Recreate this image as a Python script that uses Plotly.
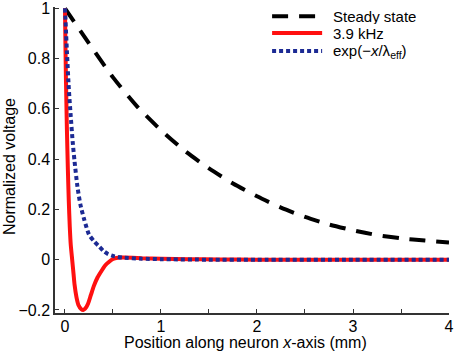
import plotly.graph_objects as go

# Data
steady_x = [0, 0.25, 0.5, 0.75, 1.0, 1.25, 1.5, 1.75, 2.0, 2.25, 2.5, 2.75, 3.0, 3.25, 3.5, 3.75, 4.0]
steady_y = [1.0, 0.86, 0.725, 0.61, 0.515, 0.432, 0.363, 0.303, 0.252, 0.207, 0.170, 0.140, 0.117, 0.098, 0.085, 0.076, 0.068]

khz_x = [0, 0.005, 0.01, 0.02, 0.03, 0.04, 0.05, 0.06, 0.075, 0.09, 0.10, 0.12, 0.14, 0.17, 0.19, 0.21,
         0.24, 0.27, 0.30, 0.34, 0.38, 0.42, 0.46, 0.50, 0.55, 0.6, 0.7, 0.8, 1.0, 1.3, 1.6, 2.0, 3.0, 4.0]
khz_y = [1.0, 0.85, 0.72, 0.52, 0.36, 0.23, 0.13, 0.06, 0.0, -0.06, -0.10, -0.15, -0.18, -0.197, -0.2, -0.195,
         -0.175, -0.14, -0.105, -0.07, -0.045, -0.022, -0.008, 0.003, 0.008, 0.009, 0.008, 0.006, 0.004, 0.002, 0.001, 0.0, 0.0, 0.0]

eff_x = [0, 0.02, 0.04, 0.06, 0.08, 0.10, 0.13, 0.16, 0.20, 0.25, 0.30, 0.35, 0.40, 0.45, 0.50, 0.55,
         0.6, 0.8, 1.0, 1.5, 2.0, 3.0, 4.0]
eff_y = [1.0, 0.83, 0.68, 0.57, 0.47, 0.39, 0.29, 0.22, 0.16, 0.10, 0.075, 0.055, 0.035, 0.022, 0.015, 0.011,
         0.008, 0.004, 0.002, 0.0, 0.0, 0.0, 0.0]

legend_names = ["Steady state", "3.9 kHz", "exp(\u2212<i>x</i>/\u03bb<sub>eff</sub>)"]
x_tickvals = [0, 1, 2, 3, 4]
x_ticktext = ["0", "1", "2", "3", "4"]
x_minor_tickvals = [0.5, 1.5, 2.5, 3.5]
y_tickvals = [-0.2, 0, 0.2, 0.4, 0.6, 0.8, 1]
y_ticktext = ["\u22120.2", "0", "0.2", "0.4", "0.6", "0.8", "1"]

colors = ["#000000", "#ff1010", "#1c2a94"]
dashes = ["16px,11px", "solid", "4px,3px"]

FONT = "Liberation Sans, Arial, sans-serif"

fig = go.Figure()
for xs, ys, c, d, n in [(steady_x, steady_y, colors[0], dashes[0], legend_names[0]),
                        (khz_x, khz_y, colors[1], dashes[1], legend_names[1]),
                        (eff_x, eff_y, colors[2], dashes[2], legend_names[2])]:
    fig.add_trace(go.Scatter(x=xs, y=ys, mode="lines", name=n,
                             line=dict(color=c, width=4, dash=d, shape="spline", smoothing=0.6),
                             showlegend=False, cliponaxis=False))

# Manual legend (samples + labels)
rows = [0.970, 0.915, 0.856]
for i in range(3):
    fig.add_shape(type="line", xref="paper", yref="paper", x0=0.551, x1=0.678, y0=rows[i], y1=rows[i],
                  line=dict(color=colors[i], width=4, dash=dashes[i]))
    fig.add_annotation(xref="paper", yref="paper", x=0.70, y=rows[i], text=legend_names[i],
                       showarrow=False, xanchor="left", yanchor="middle", height=15,
                       font=dict(family=FONT, size=15, color="#000"))

# Axis titles as annotations for exact placement
fig.add_annotation(xref="paper", yref="paper", x=0.483, y=-0.098, text="Position along neuron <i>x</i>-axis (mm)",
                   showarrow=False, xanchor="center", yanchor="middle", font=dict(family=FONT, size=16, color="#000"))
fig.add_annotation(xref="paper", yref="paper", x=-0.117, y=0.48, text="Normalized voltage", textangle=-90,
                   showarrow=False, xanchor="center", yanchor="middle", font=dict(family=FONT, size=16, color="#000"))

fig.update_layout(
    width=454, height=356,
    margin=dict(l=55, r=5, t=7, b=43, autoexpand=False),
    paper_bgcolor="white", plot_bgcolor="white",
    font=dict(family=FONT, size=16, color="#000"),
    showlegend=False,
)
fig.update_xaxes(range=[-0.104, 4.0], tickvals=x_tickvals, ticktext=x_ticktext, automargin=False,
                 ticks="inside", ticklen=4, tickwidth=1.2, tickcolor="#333", ticklabeloverflow="allow",
                 minor=dict(tickvals=x_minor_tickvals, ticks="inside", ticklen=4, tickwidth=1.2, tickcolor="#333"),
                 showline=True, linecolor="#333", linewidth=1.5, showgrid=False, zeroline=False,
                 tickfont=dict(size=16), ticklabelstandoff=-2)
fig.update_yaxes(range=[-0.212, 1.005], tickvals=y_tickvals, ticktext=y_ticktext, automargin=False,
                 ticks="inside", ticklen=4, tickwidth=1.2, tickcolor="#333", ticklabeloverflow="allow",
                 showline=True, linecolor="#333", linewidth=1.5, showgrid=False, zeroline=False,
                 tickfont=dict(size=16))

fig.write_html("out.html", config={"displayModeBar": False},
               post_script="document.body.style.margin='0px';document.body.style.overflow='hidden';")
